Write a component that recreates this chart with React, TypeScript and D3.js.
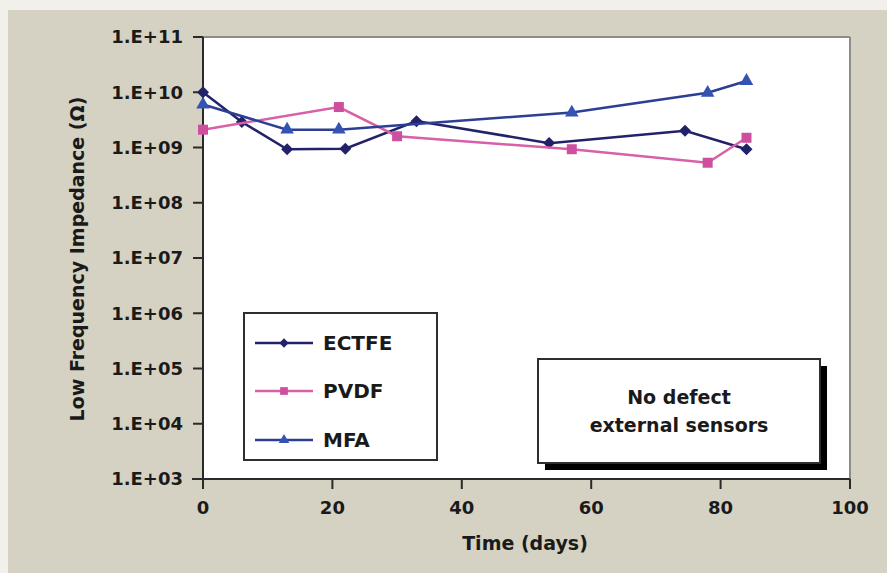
import React from "react";
import * as d3 from "d3";

// values (days, ohms)
const ectfeDays = [0, 6, 13, 22, 33, 53.5, 74.5, 84];
const ectfeZ = [1.0e10, 2.9e9, 9.3e8, 9.5e8, 3.0e9, 1.2e9, 2.0e9, 9.3e8];

const pvdfDays = [0, 21, 30, 57, 78, 84];
const pvdfZ = [2.1e9, 5.4e9, 1.6e9, 9.3e8, 5.3e8, 1.5e9];

const mfaDays = [0, 13, 21, 57, 78, 84];
const mfaZ = [6.0e9, 2.1e9, 2.1e9, 4.3e9, 9.8e9, 1.6e10];

const xTicks = [0, 20, 40, 60, 80, 100];
const yTicks = [1e3, 1e4, 1e5, 1e6, 1e7, 1e8, 1e9, 1e10, 1e11];

const seriesNames = ["ECTFE", "PVDF", "MFA"];
const noteLines = ["No defect", "external sensors"];

const W = 887;
const H = 573;
const FONT = "'DejaVu Sans', Verdana, sans-serif";

const fmtExp = (v: number) => {
  const e = Math.round(Math.log10(v));
  return `1.E+${e < 10 ? "0" + e : e}`;
};

const series = [
  { name: seriesNames[0], days: ectfeDays, vals: ectfeZ, line: "#22226a", fill: "#22226a", shape: "diamond" },
  { name: seriesNames[1], days: pvdfDays, vals: pvdfZ, line: "#d860a8", fill: "#cf4f9f", shape: "square" },
  { name: seriesNames[2], days: mfaDays, vals: mfaZ, line: "#2c3f93", fill: "#3553b3", shape: "triangle" },
];

const markerPath = (shape: string, big: boolean) => {
  const k = big ? 1 : 0.6;
  if (shape === "square") return d3.symbol(d3.symbolSquare, 100 * k)()!;
  if (shape === "triangle") return d3.symbol(d3.symbolTriangle, 80 * k)()!;
  return d3.symbol(d3.symbolSquare, 72 * k)()!;
};

export default function App() {
  const x = d3.scaleLinear().domain([0, 100]).range([203, 850]);
  const y = d3.scaleLog().domain([1e3, 1e11]).range([479, 37]);

  const lineGen = d3
    .line<[number, number]>()
    .x((d) => x(d[0]))
    .y((d) => y(d[1]));

  const marker = (shape: string, cx: number, cy: number, fill: string, big: boolean, key?: any) => (
    <path
      key={key}
      d={markerPath(shape, big)}
      transform={`translate(${cx},${cy})${shape === "diamond" ? " rotate(45)" : ""}`}
      fill={fill}
    />
  );

  // legend box
  const lg = { x: 244, y: 313, w: 193, h: 147 };
  const legendRows = [343, 391, 440];
  // note box
  const nb = { x: 538, y: 359, w: 282, h: 104 };

  return (
    <svg
      width={W}
      height={H}
      style={{ position: "absolute", left: 0, top: 0, display: "block" }}
      fontFamily={FONT}
    >
      <rect x={0} y={0} width={W} height={H} fill="#f1f0eb" />
      <rect x={8} y={10} width={W - 8} height={H - 10} fill="#d5d2c3" />

      {/* plot area */}
      <rect x={x(0)} y={y(1e11)} width={x(100) - x(0)} height={y(1e3) - y(1e11)} fill="#ffffff" />
      <line x1={x(0)} x2={x(100)} y1={y(1e11)} y2={y(1e11)} stroke="#8e8c84" strokeWidth={2} />
      <line x1={x(100)} x2={x(100)} y1={y(1e11)} y2={y(1e3)} stroke="#8e8c84" strokeWidth={2} />

      {/* axes */}
      <line x1={x(0)} x2={x(0)} y1={y(1e11)} y2={y(1e3) + 10} stroke="#2a2a2a" strokeWidth={2} />
      <line x1={x(0) - 11} x2={x(100)} y1={y(1e3)} y2={y(1e3)} stroke="#2a2a2a" strokeWidth={2} />
      {yTicks.map((t) => (
        <g key={t}>
          <line x1={x(0) - 10} x2={x(0)} y1={y(t)} y2={y(t)} stroke="#2a2a2a" strokeWidth={2} />
          <text
            x={183}
            y={y(t)}
            dy="0.36em"
            textAnchor="end"
            fontSize={18}
            fontWeight="bold"
            fill="#1a1a1a"
          >
            {fmtExp(t)}
          </text>
        </g>
      ))}
      {xTicks.map((t) => (
        <g key={t}>
          <line x1={x(t)} x2={x(t)} y1={y(1e3)} y2={y(1e3) + 10} stroke="#2a2a2a" strokeWidth={2} />
          <text x={x(t)} y={514} textAnchor="middle" fontSize={18} fontWeight="bold" fill="#1a1a1a">
            {t}
          </text>
        </g>
      ))}
      <text x={525} y={550} textAnchor="middle" fontSize={19} fontWeight="bold" fill="#1a1a1a">
        Time (days)
      </text>
      <text
        transform={`translate(84,259) rotate(-90)`}
        textAnchor="middle"
        fontSize={19}
        fontWeight="bold"
        fill="#1a1a1a"
      >
        Low Frequency Impedance (Ω)
      </text>

      {/* series */}
      {series.map((s) => {
        const pts = s.days.map((d, i) => [d, s.vals[i]] as [number, number]);
        return (
          <g key={s.name}>
            <path d={lineGen(pts)!} fill="none" stroke={s.line} strokeWidth={2.5} />
            {pts.map((p, i) => marker(s.shape, x(p[0]), y(p[1]), s.fill, true, i))}
          </g>
        );
      })}

      {/* legend */}
      <rect x={lg.x} y={lg.y} width={lg.w} height={lg.h} fill="#ffffff" stroke="#2e2e2e" strokeWidth={2} />
      {series.map((s, i) => (
        <g key={s.name}>
          <line x1={255} x2={313} y1={legendRows[i]} y2={legendRows[i]} stroke={s.line} strokeWidth={2.5} />
          {marker(s.shape, 284, legendRows[i], s.fill, false)}
          <text x={323} y={legendRows[i]} dy="0.36em" fontSize={20} fontWeight="bold" fill="#1a1a1a">
            {s.name}
          </text>
        </g>
      ))}

      {/* note box with shadow */}
      <rect x={nb.x + 7} y={nb.y + 7} width={nb.w} height={nb.h} fill="#000000" />
      <rect x={nb.x} y={nb.y} width={nb.w} height={nb.h} fill="#ffffff" stroke="#2e2e2e" strokeWidth={2} />
      {noteLines.map((l, i) => (
        <text
          key={l}
          x={nb.x + nb.w / 2}
          y={404 + i * 28}
          textAnchor="middle"
          fontSize={19}
          fontWeight="bold"
          fill="#1a1a1a"
        >
          {l}
        </text>
      ))}
    </svg>
  );
}
